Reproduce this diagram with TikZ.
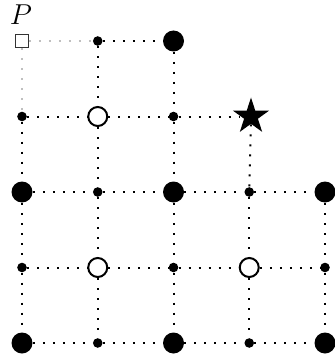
\documentclass[tikz,border=0pt]{standalone}
\usetikzlibrary{shapes.geometric}
\begin{document}
\begin{tikzpicture}[x=0.5pt,y=-0.5pt,
 big/.style={circle,fill=black,inner sep=0pt,minimum size=10.5pt},
 small/.style={circle,fill=black,inner sep=0pt,minimum size=4.8pt},
 open/.style={circle,draw=black,line width=1pt,fill=white,inner sep=0pt,minimum size=9.5pt},
 sq/.style={rectangle,draw=black!80,line width=0.4pt,fill=white,inner sep=0pt,minimum size=6.5pt},
 starn/.style={star,star points=5,star point ratio=2.618,fill=black,inner sep=0pt,minimum size=19pt},
 link/.style={line width=1pt,dash pattern=on 1pt off 4pt},
 glink/.style={link,draw=black!25}]
\useasboundingbox (0,0) rectangle (334,358);
\node[font=\fontsize{15.5}{18}\selectfont] (P) at (21,15) {$P$};
% row 0
\node[sq] (n00) at (22,41) {};
\node[small] (n10) at (97.75,41) {};
\node[big] (n20) at (173.5,41) {};
% row 1
\node[small] (n01) at (22,116.5) {};
\node[open] (n11) at (97.75,116.5) {};
\node[small] (n21) at (173.5,116.5) {};
\node[starn] (n31) at (251,116.5) {};
% row 2
\node[big] (n02) at (22,192) {};
\node[small] (n12) at (97.75,192) {};
\node[big] (n22) at (173.5,192) {};
\node[small] (n32) at (249.25,192) {};
\node[big] (n42) at (325,192) {};
% row 3
\node[small] (n03) at (22,267.5) {};
\node[open] (n13) at (97.75,267.5) {};
\node[small] (n23) at (173.5,267.5) {};
\node[open] (n33) at (249.25,267.5) {};
\node[small] (n43) at (325,267.5) {};
% row 4
\node[big] (n04) at (22,343) {};
\node[small] (n14) at (97.75,343) {};
\node[big] (n24) at (173.5,343) {};
\node[small] (n34) at (249.25,343) {};
\node[big] (n44) at (325,343) {};
% gray links from P
\draw[glink] (n00) -- (n10);
\draw[glink] (n00) -- (n01);
% horizontal
\draw[link] (n10) -- (n20);
\draw[link] (n01) -- (n11);
\draw[link] (n11) -- (n21);
\draw[link] (n21) -- (n31);
\foreach \r in {2,3,4}{
  \draw[link] (n0\r) -- (n1\r);
  \draw[link] (n1\r) -- (n2\r);
  \draw[link] (n2\r) -- (n3\r);
  \draw[link] (n3\r) -- (n4\r);
}
% vertical
\draw[link] (n01) -- (n02);
\draw[link] (n02) -- (n03);
\draw[link] (n03) -- (n04);
\foreach \c in {1,2}{
  \draw[link] (n\c0) -- (n\c1);
  \draw[link] (n\c1) -- (n\c2);
  \draw[link] (n\c2) -- (n\c3);
  \draw[link] (n\c3) -- (n\c4);
}
\draw[link] (n31) -- (n32);
\draw[link] (n32) -- (n33);
\draw[link] (n33) -- (n34);
\draw[link] (n42) -- (n43);
\draw[link] (n43) -- (n44);
\end{tikzpicture}
\end{document}
